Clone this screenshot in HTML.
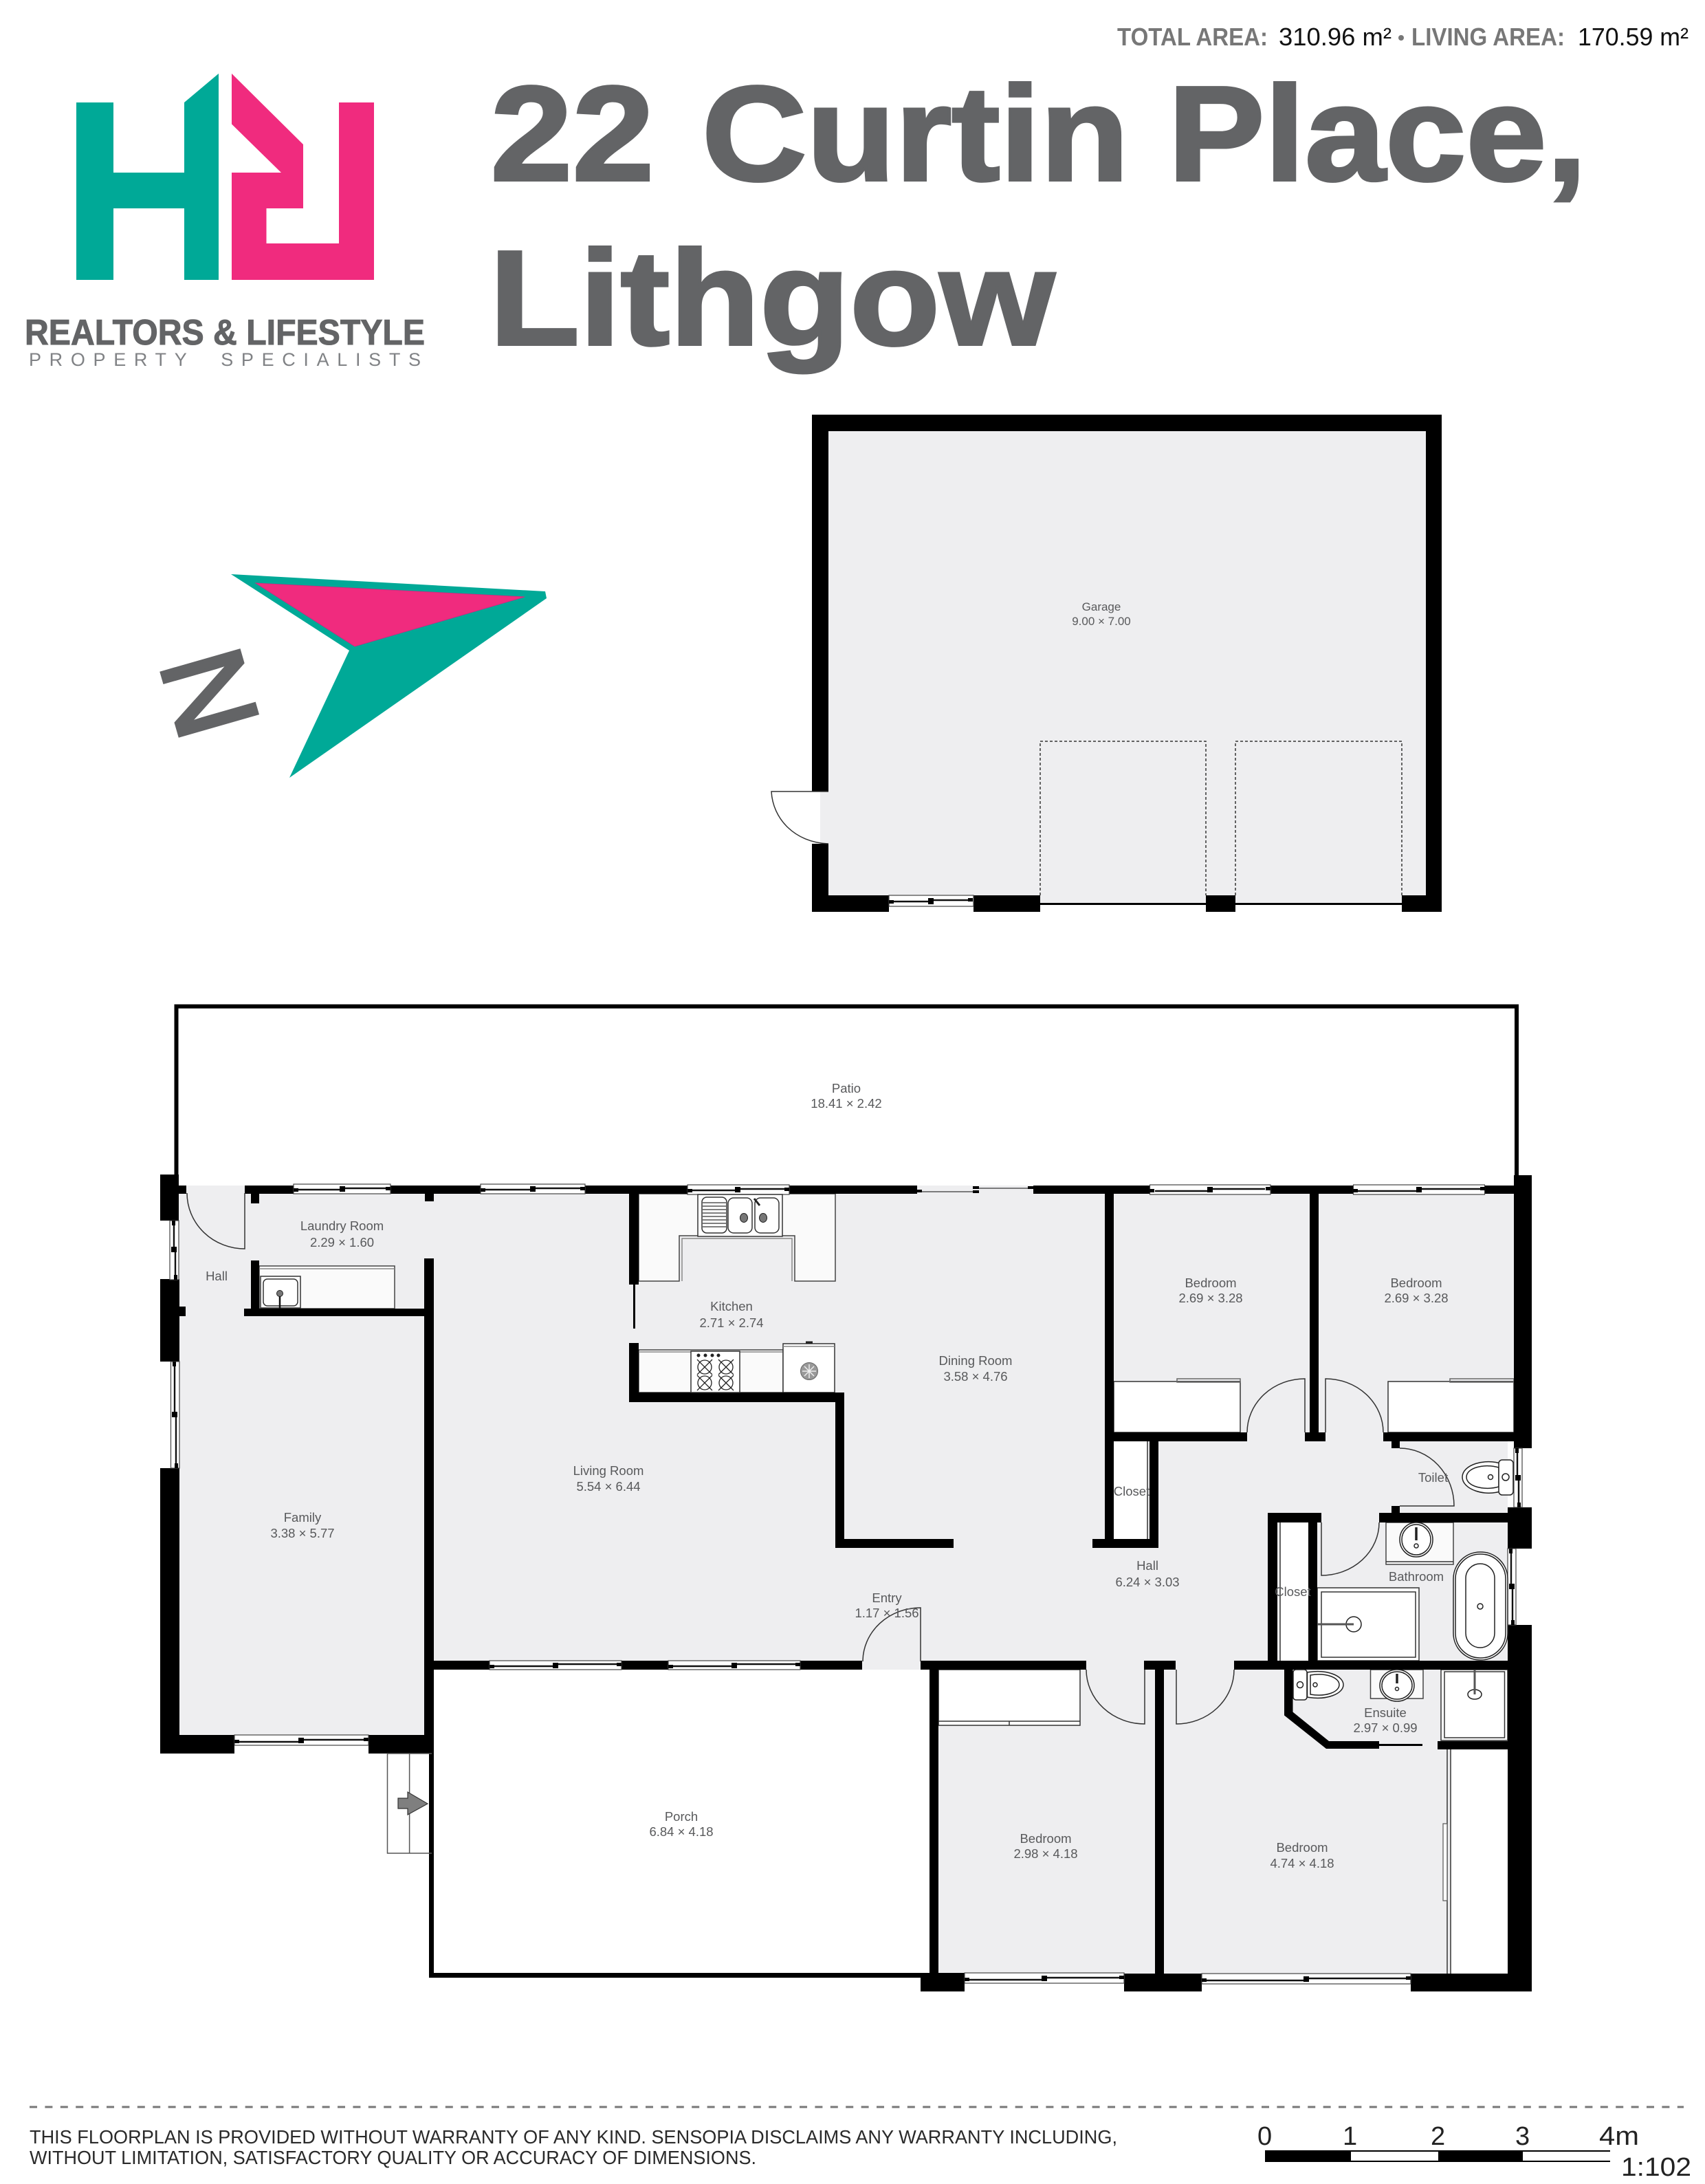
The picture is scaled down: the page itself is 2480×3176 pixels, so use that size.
<!DOCTYPE html>
<html lang="en"><head><meta charset="utf-8"><title>22 Curtin Place, Lithgow</title>
<style>html,body{margin:0;padding:0;background:#fff}svg{display:block}
text{font-family:"Liberation Sans",sans-serif}
.l{font-size:18.5px;fill:#58595b;text-anchor:middle}
.t{fill:none;stroke:#333;stroke-width:1.5}
.w{fill:#fff;stroke:#444;stroke-width:1.2}
.m{stroke:#111;stroke-width:2.4;fill:none}
.f{fill:#fff;stroke:#333;stroke-width:1.5}
.c{fill:#fafafa;stroke:#444;stroke-width:1.5}
</style></head><body>
<svg xmlns="http://www.w3.org/2000/svg" width="2480" height="3176" viewBox="0 0 2480 3176">
<rect width="2480" height="3176" fill="#fff"/>

<!-- header -->
<text x="1625" y="66" font-size="36" font-weight="700" fill="#777" textLength="219" lengthAdjust="spacingAndGlyphs">TOTAL AREA:</text>
<text x="1860" y="66" font-size="36" fill="#111" textLength="164" lengthAdjust="spacingAndGlyphs">310.96 m²</text>
<circle cx="2038" cy="55" r="4" fill="#777"/>
<text x="2053" y="66" font-size="36" font-weight="700" fill="#777" textLength="223" lengthAdjust="spacingAndGlyphs">LIVING AREA:</text>
<text x="2295" y="66" font-size="36" fill="#111" textLength="161" lengthAdjust="spacingAndGlyphs">170.59 m²</text>

<g font-size="196" font-weight="700" fill="#636466" stroke="#636466" stroke-width="4">
<text x="713.500" y="262" textLength="238" lengthAdjust="spacingAndGlyphs">22</text>
<text x="1021" y="262" textLength="621" lengthAdjust="spacingAndGlyphs">Curtin</text>
<text x="1699" y="262" textLength="609" lengthAdjust="spacingAndGlyphs">Place,</text>
<text x="712" y="501" textLength="822" lengthAdjust="spacingAndGlyphs">Lithgow</text>
</g>

<!-- logo -->
<polygon fill="#00a997" points="111,149 165,149 165,251 268,251 268,149 318,107 318,407 268,407 268,303 165,303 165,407 111,407"/>
<polygon fill="#f02b7e" points="337,107 441,210 441,303 387.5,303 387.5,354 493,354 493,149 544,149 544,407 337,407 337,251 409,251 337,180.5"/>
<text x="36" y="501" font-size="52" font-weight="700" fill="#636466" stroke="#636466" stroke-width="1" textLength="582" lengthAdjust="spacingAndGlyphs">REALTORS &amp; LIFESTYLE</text>
<text x="42" y="532" font-size="27" fill="#808285" textLength="570" lengthAdjust="spacing" xml:space="preserve">PROPERTY  SPECIALISTS</text>

<!-- compass -->
<polygon fill="#00a997" points="336,835 793,860 795,870 421,1131 508,946"/>
<polygon fill="#f02b7e" stroke="#d02a80" stroke-width="1" points="372,848 763,868 516,940"/>
<text transform="translate(231.5 965) rotate(74)" font-size="170" fill="#636466" stroke="#636466" stroke-width="5">N</text>

<!-- garage -->
<rect x="1181" y="603" width="916" height="723" fill="#000"/>
<rect x="1205" y="627" width="869" height="675" fill="#eeeef0"/>
<rect x="1181" y="1151" width="24" height="76" fill="#eeeef0"/>
<rect x="1181" y="1151" width="12" height="76" fill="#fff"/>
<path class="t" d="M1205 1151H1122C1124 1190 1155 1225 1205 1227"/>
<rect x="1293" y="1302" width="123" height="24" fill="#fff"/>
<rect class="w" x="1293" y="1302" width="123" height="16"/>
<path class="m" d="M1300 1311H1352M1358 1309H1410"/>
<rect x="1350" y="1306" width="8" height="9" fill="#000"/>
<rect x="1293" y="1309" width="7" height="5" fill="#000"/><rect x="1408" y="1306" width="7" height="5" fill="#000"/>
<rect x="1513" y="1302" width="241" height="24" fill="#fff"/>
<rect x="1513" y="1302" width="241" height="11" fill="#eeeef0"/>
<rect x="1513" y="1313" width="241" height="3" fill="#000"/>
<rect x="1797" y="1302" width="242" height="24" fill="#fff"/>
<rect x="1797" y="1302" width="242" height="11" fill="#eeeef0"/>
<rect x="1797" y="1313" width="242" height="3" fill="#000"/>
<path d="M1513 1302V1078H1754V1302M1797 1302V1078H2039V1302" fill="none" stroke="#333" stroke-width="1.5" stroke-dasharray="4 3"/>
<text class="l" style="font-size:17px" x="1602" y="888">Garage</text>
<text class="l" style="font-size:17px" x="1602" y="909">9.00 × 7.00</text>

<!-- patio -->
<path d="M256.5 1710V1463.5H2206V1710" fill="none" stroke="#000" stroke-width="6"/>

<!-- floor -->
<g fill="#eeeef0">
<rect x="260" y="1724" width="357" height="799"/>
<rect x="617" y="1735" width="990" height="680"/>
<rect x="1607" y="1736" width="595" height="347"/>
<rect x="1607" y="2083" width="586" height="332"/>
<rect x="1365" y="2415" width="828" height="455"/>
<rect x="1254" y="2415" width="85" height="13"/>
<rect x="1334" y="1724" width="169" height="12"/>
</g>

<!-- white fixtures -->
<polygon class="c" points="929,1736 1215,1736 1215,1863 1156,1863 1156,1797 988,1797 988,1863 929,1863"/>
<path class="t" style="stroke:#888" d="M992 1863V1801H1152V1863"/>
<rect class="c" x="929" y="1963" width="210" height="62"/>
<path class="t" style="stroke:#888" d="M929 1966H1139"/>
<rect class="f" x="1139" y="1954" width="75" height="71"/>
<path class="t" style="stroke:#888" d="M1139 1958H1214"/>
<rect class="c" x="377" y="1841" width="197" height="62"/>
<path class="t" style="stroke:#888" d="M377 1845H574"/>
<rect class="f" x="1620" y="2009" width="184" height="74"/><rect class="t" x="1712" y="2005" width="92" height="5" style="stroke:#666"/>
<rect class="f" x="2019" y="2009" width="183" height="74"/><rect class="t" x="2109" y="2005" width="93" height="5" style="stroke:#666"/>
<rect fill="#fff" x="1620" y="2096" width="49" height="142"/><path class="t" d="M1669 2096V2238"/>
<rect fill="#fff" x="1862" y="2214" width="41" height="201"/><path class="t" d="M1862 2214V2415"/>
<rect class="c" x="2016" y="2214" width="98" height="61"/><path class="t" d="M2016 2271H2114"/>
<rect class="f" x="1916" y="2309" width="148" height="106"/><rect class="f" x="1922" y="2315" width="137" height="95"/>
<rect class="f" x="2096" y="2428" width="97" height="103"/><rect class="f" x="2101" y="2431" width="87.500" height="96"/>
<rect class="c" x="1993.500" y="2428" width="76.500" height="42"/>
<rect fill="#fff" x="2110" y="2544" width="83" height="326"/>
<path class="t" d="M2105 2544V2870M2110 2544V2870"/>
<rect x="2099" y="2652" width="6" height="112" fill="#fafafa" stroke="#555" stroke-width="1.2"/>
<rect class="f" x="1365" y="2428" width="206" height="81"/><path class="t" d="M1365 2503H1571M1468 2503V2509"/>

<!-- walls -->
<g fill="#000">
<rect x="233" y="1708" width="27" height="67"/><rect x="260" y="1724" width="11" height="12"/>
<rect x="233" y="1860" width="28" height="120"/><rect x="260" y="1900" width="10" height="14"/>
<rect x="233" y="2135" width="28" height="415"/>
<rect x="233" y="2523" width="108" height="27"/>
<rect x="536" y="2523" width="93" height="27"/>
<rect x="617" y="1830" width="14" height="720"/>
<rect x="355" y="1903" width="262" height="11"/>
<rect x="365" y="1833" width="12" height="70"/>
<rect x="356" y="1724" width="978" height="12"/><rect x="365" y="1735" width="12" height="15"/><rect x="618" y="1735" width="13" height="12"/>
<rect x="1503" y="1724" width="700" height="12"/>
<rect x="915" y="1736" width="14" height="132"/><rect x="921" y="1868" width="3" height="64"/>
<rect x="915" y="1953" width="14" height="86"/><rect x="915" y="2025" width="313" height="14"/>
<rect x="1215" y="2025" width="13" height="226"/><rect x="1215" y="2238" width="172" height="13"/>
<rect x="1607" y="1736" width="13" height="515"/><rect x="1589" y="2238" width="96" height="13"/>
<rect x="1672" y="2096" width="13" height="155"/>
<rect x="1620" y="2083" width="194" height="13"/>
<rect x="1905" y="1736" width="13" height="360"/><rect x="1898" y="2083" width="30" height="13"/>
<rect x="2012" y="2083" width="190" height="13"/>
<rect x="2202" y="1709" width="26" height="397"/>
<rect x="2024" y="2096" width="12" height="10"/><rect x="2024" y="2190" width="12" height="10"/>
<rect x="2006" y="2200" width="190" height="14"/>
<rect x="2193" y="2192" width="35" height="60"/>
<rect x="2193" y="2363" width="35" height="533"/>
<rect x="1844" y="2200" width="78" height="14"/><rect x="1844" y="2200" width="14" height="228"/><rect x="1903" y="2214" width="13" height="214"/>
<rect x="631" y="2415" width="81" height="13"/><rect x="904" y="2415" width="68" height="13"/><rect x="1164" y="2415" width="90" height="13"/>
<rect x="1339" y="2415" width="241" height="13"/><rect x="1664" y="2415" width="46" height="13"/><rect x="1795" y="2415" width="398" height="13"/>
<rect x="1352" y="2428" width="13" height="441"/>
<rect x="1680" y="2428" width="13" height="442"/>
<rect x="624" y="2550" width="7" height="326"/><rect x="624" y="2869" width="715" height="7"/>
<rect x="1339" y="2869" width="64" height="27"/>
<rect x="1635" y="2870" width="113" height="26"/>
<rect x="2052" y="2870" width="176" height="26"/>
<polygon points="1868,2428 1868,2494.500 1929,2543 2006,2543 2006,2532 1933,2532 1880.500,2489.600 1880.500,2428"/>
<rect x="2006" y="2536" width="63" height="3"/>
<rect x="2091" y="2532" width="102" height="12"/>
</g>

<!-- windows, horizontal -->
<g>
<rect class="w" x="427" y="1722" width="141" height="14"/><path class="m" d="M433 1730H494M502 1728H562"/><rect x="494" y="1725" width="8" height="8"/><rect x="427" y="1728" width="7" height="5"/><rect x="561" y="1726" width="7" height="5"/>
<rect class="w" x="699" y="1722" width="152" height="14"/><path class="m" d="M705 1730H771M779 1728H845"/><rect x="771" y="1725" width="8" height="8"/><rect x="699" y="1728" width="7" height="5"/><rect x="844" y="1726" width="7" height="5"/>
<rect class="w" x="1000" y="1723" width="148" height="14"/><path class="m" d="M1006 1731H1069M1077 1729H1142"/><rect x="1069" y="1726" width="8" height="8"/><rect x="1000" y="1729" width="7" height="5"/><rect x="1141" y="1727" width="7" height="5"/>
<path class="t" style="stroke:#555" d="M1340 1733H1415M1424 1728H1495"/><rect x="1334" y="1730" width="7" height="4"/><rect x="1415" y="1725" width="9" height="4"/><rect x="1415" y="1731" width="9" height="4"/><rect x="1495" y="1725" width="8" height="4"/>
<rect class="w" x="1672.500" y="1723" width="175.500" height="14"/><path class="m" d="M1680 1732H1756M1764 1729H1840"/><rect x="1756" y="1726" width="8" height="8"/><rect x="1672" y="1729" width="7" height="5"/><rect x="1841" y="1726" width="7" height="5"/>
<rect class="w" x="1968.500" y="1723" width="191" height="14"/><path class="m" d="M1975 1732H2060M2068 1729H2153"/><rect x="2060" y="1726" width="8" height="8"/><rect x="1968" y="1729" width="7" height="5"/><rect x="2153" y="1726" width="7" height="5"/>
<rect class="w" x="341" y="2523" width="195" height="15"/><path class="m" d="M348 2533H434M442 2530H529"/><rect x="434" y="2527" width="8" height="8"/><rect x="341" y="2530" width="7" height="5"/><rect x="529" y="2527" width="7" height="5"/>
<rect class="w" x="712" y="2415" width="192" height="13"/><path class="m" d="M719 2423H804M812 2420H897"/><rect x="804" y="2418" width="8" height="8"/><rect x="712" y="2421" width="7" height="5"/><rect x="897" y="2418" width="7" height="5"/>
<rect class="w" x="972" y="2415" width="192" height="13"/><path class="m" d="M979 2423H1064M1072 2420H1157"/><rect x="1064" y="2418" width="8" height="8"/><rect x="972" y="2421" width="7" height="5"/><rect x="1157" y="2418" width="7" height="5"/>
<rect class="w" x="1403" y="2869" width="232" height="15"/><path class="m" d="M1410 2879H1515M1523 2876H1628"/><rect x="1515" y="2873" width="8" height="8"/><rect x="1403" y="2876" width="7" height="5"/><rect x="1628" y="2873" width="7" height="5"/>
<rect class="w" x="1748" y="2870" width="304" height="15"/><path class="m" d="M1755 2880H1896M1904 2877H2045"/><rect x="1896" y="2874" width="8" height="8"/><rect x="1748" y="2877" width="7" height="5"/><rect x="2045" y="2874" width="7" height="5"/>
<!-- vertical -->
<rect class="w" x="247" y="1775" width="13" height="86"/><path class="m" d="M253 1782V1813M255 1821V1855"/><rect x="249" y="1813" width="8" height="8"/><rect x="250" y="1775" width="5" height="7"/><rect x="253" y="1854" width="5" height="7"/>
<rect class="w" x="248.500" y="1980" width="12.500" height="155"/><path class="m" d="M254 1987V2053M256 2061V2128"/><rect x="250" y="2053" width="8" height="8"/><rect x="251" y="1980" width="5" height="7"/><rect x="254" y="2128" width="5" height="7"/>
<rect class="w" x="2202" y="2106" width="12" height="86"/><path class="m" d="M2207 2112V2145M2209 2153V2186"/><rect x="2204" y="2145" width="8" height="8"/><rect x="2204" y="2106" width="5" height="7"/><rect x="2207" y="2185" width="5" height="7"/>
<rect class="w" x="2193" y="2252" width="12" height="111"/><path class="m" d="M2198 2259V2303M2200 2311V2356"/><rect x="2195" y="2303" width="8" height="8"/><rect x="2195" y="2252" width="5" height="7"/><rect x="2198" y="2356" width="5" height="7"/>
</g>

<!-- doors -->
<g class="t" fill="none" stroke="#333" stroke-width="1.5">
<path d="M356 1735V1816A84 81 0 0 1 272 1735"/>
<path d="M1339 2416V2338A84 78 0 0 0 1255 2416"/>
<path d="M1898 2083V2005A84 78 0 0 0 1814 2083"/>
<path d="M1928 2083V2005A84 78 0 0 1 2012 2083"/>
<path d="M2036 2106A79 84 0 0 1 2115 2190H2036"/>
<path d="M1922 2214V2291A84 77 0 0 0 2006 2214"/>
<path d="M1665 2428V2507A85 79 0 0 1 1580 2428"/>
<path d="M1711 2428V2507A84 79 0 0 0 1795 2428"/>
</g>

<!-- stairs -->
<path class="t" style="stroke:#555" d="M628 2550H563.500V2695H628M595.600 2550V2695"/>
<polygon points="622,2623 593,2606 593,2615 579,2615 579,2630 593,2630 593,2639" fill="#7f7f7f" stroke="#333" stroke-width="1.2"/>

<!-- laundry sink -->
<rect class="f" x="379" y="1856" width="58" height="46"/><rect class="f" x="383" y="1860" width="50" height="39" rx="6"/>
<circle cx="407" cy="1881" r="4.500" fill="#777" stroke="#222"/><path d="M407 1885V1903" stroke="#111" stroke-width="2.500"/>

<!-- kitchen sink -->
<rect class="f" x="1015" y="1737" width="123" height="61"/>
<rect class="f" x="1021" y="1741" width="36" height="52" rx="7"/>
<path d="M1022 1749H1056M1022 1754H1056M1022 1759H1056M1022 1764H1056M1022 1769H1056M1022 1774H1056M1022 1779H1056M1022 1784H1056" stroke="#333" stroke-width="1.200"/>
<rect class="f" x="1059" y="1742" width="35" height="51" rx="8"/><rect class="f" x="1098" y="1742" width="35" height="51" rx="8"/>
<ellipse cx="1082" cy="1771" rx="5.500" ry="6.500" fill="#777" stroke="#222"/><ellipse cx="1110" cy="1771" rx="5.500" ry="6.500" fill="#777" stroke="#222"/>
<path d="M1097 1743L1105 1753" stroke="#222" stroke-width="3"/>

<!-- stove -->
<rect class="f" x="1005" y="1965" width="71" height="60"/>
<g fill="#222"><circle cx="1016" cy="1971" r="2.500"/><circle cx="1026" cy="1971" r="2.500"/><circle cx="1036" cy="1971" r="2.500"/><circle cx="1045" cy="1971" r="2.500"/></g>
<g fill="none" stroke="#222" stroke-width="1.300">
<circle cx="1025" cy="1988" r="10"/><circle cx="1056" cy="1988" r="10"/><circle cx="1025" cy="2011" r="10"/><circle cx="1056" cy="2011" r="10"/>
<path d="M1014 1977L1036 1999M1036 1977L1014 1999M1045 1977L1067 1999M1067 1977L1045 1999M1014 2000L1036 2022M1036 2000L1014 2022M1045 2000L1067 2022M1067 2000L1045 2022"/>
</g>
<!-- fridge -->
<circle cx="1177" cy="1994" r="12.500" fill="#999" stroke="#666"/>
<path d="M1177 1984V2004M1167 1994H1187M1170 1987L1184 2001M1184 1987L1170 2001" stroke="#eee" stroke-width="1.500"/>
<path d="M1172 1952H1182" stroke="#222" stroke-width="3"/>

<!-- bathroom fixtures -->
<g fill="none" stroke="#222" stroke-width="1.500">
<ellipse cx="2060" cy="2239" rx="24" ry="25" fill="#fff"/><ellipse cx="2060" cy="2239" rx="21" ry="22"/>
<circle cx="2060" cy="2248" r="3"/><path d="M2060 2221V2240" stroke-width="3.500"/>
<rect x="2114" y="2257" width="79" height="157" rx="39" fill="#fff"/><rect x="2117" y="2260" width="73" height="151" rx="36"/>
<rect x="2132" y="2274" width="42" height="122" rx="21"/>
<circle cx="2153" cy="2336" r="4"/>
<ellipse cx="1969" cy="2362" rx="11" ry="11"/>
<path d="M1916 2362H1969" stroke-width="3" stroke="#555"/>
<ellipse cx="2145" cy="2464" rx="10" ry="7"/>
<path d="M2145 2428V2464" stroke-width="3" stroke="#555"/>
<ellipse cx="2032" cy="2451" rx="25" ry="23" fill="#fff"/><ellipse cx="2032" cy="2451" rx="22" ry="20"/>
<circle cx="2032" cy="2456" r="2.500"/><path d="M2032 2434V2448" stroke-width="3.500"/>
<!-- toilet A -->
<path d="M2185 2129C2160 2120 2127 2130 2127 2148C2127 2166 2160 2177 2185 2168Z" fill="#fff"/>
<path d="M2180 2134C2160 2128 2133 2134 2133 2148C2133 2162 2160 2168 2180 2162Z"/>
<rect x="2180" y="2123" width="21" height="51" rx="5" fill="#fff"/>
<circle cx="2168" cy="2148" r="3.500"/><circle cx="2190" cy="2148" r="5"/>
<!-- toilet B -->
<path d="M1901.500 2432C1930 2427 1954 2437 1954 2450C1954 2463 1930 2473 1901.500 2468Z" fill="#fff"/>
<path d="M1906 2436C1930 2432 1948 2440 1948 2450C1948 2460 1930 2468 1906 2464Z"/>
<rect x="1881" y="2428" width="20" height="44" rx="4" fill="#fff"/>
<circle cx="1891" cy="2450" r="4.500"/><circle cx="1913" cy="2450" r="3"/>
</g>

<!-- labels -->
<g>
<text class="l" x="1231" y="1589">Patio</text><text class="l" x="1231" y="1611">18.41 × 2.42</text>
<text class="l" x="497.500" y="1789">Laundry Room</text><text class="l" x="497.500" y="1813">2.29 × 1.60</text>
<text class="l" x="315" y="1862">Hall</text>
<text class="l" x="440" y="2213">Family</text><text class="l" x="440" y="2236">3.38 × 5.77</text>
<text class="l" x="885" y="2145">Living Room</text><text class="l" x="885" y="2168">5.54 × 6.44</text>
<text class="l" x="1064" y="1906">Kitchen</text><text class="l" x="1064" y="1930">2.71 × 2.74</text>
<text class="l" x="1419" y="1985">Dining Room</text><text class="l" x="1419" y="2008">3.58 × 4.76</text>
<text class="l" x="1290" y="2330">Entry</text><text class="l" x="1290" y="2352">1.17 × 1.56</text>
<text class="l" x="1761" y="1872">Bedroom</text><text class="l" x="1761" y="1894">2.69 × 3.28</text>
<text class="l" x="2060" y="1872">Bedroom</text><text class="l" x="2060" y="1894">2.69 × 3.28</text>
<text class="l" x="1646" y="2175">Closet</text>
<text class="l" x="2084.500" y="2155">Toilet</text>
<text class="l" x="2060" y="2299">Bathroom</text>
<text class="l" x="1880.500" y="2321">Closet</text>
<text class="l" x="1669" y="2283">Hall</text><text class="l" x="1669" y="2307">6.24 × 3.03</text>
<text class="l" x="2015" y="2497">Ensuite</text><text class="l" x="2015" y="2519">2.97 × 0.99</text>
<text class="l" x="1894" y="2693">Bedroom</text><text class="l" x="1894" y="2716">4.74 × 4.18</text>
<text class="l" x="991" y="2648">Porch</text><text class="l" x="991" y="2670">6.84 × 4.18</text>
<text class="l" x="1521" y="2680">Bedroom</text><text class="l" x="1521" y="2702">2.98 × 4.18</text>
</g>

<!-- footer -->
<path d="M43 3064H2449" stroke="#777" stroke-width="3" stroke-dasharray="11 11.4" fill="none"/>
<text x="43" y="3117" font-size="28" fill="#2a2a2a" textLength="1582" lengthAdjust="spacingAndGlyphs">THIS FLOORPLAN IS PROVIDED WITHOUT WARRANTY OF ANY KIND. SENSOPIA DISCLAIMS ANY WARRANTY INCLUDING,</text>
<text x="43" y="3147" font-size="28" fill="#2a2a2a" textLength="1057" lengthAdjust="spacingAndGlyphs">WITHOUT LIMITATION, SATISFACTORY QUALITY OR ACCURACY OF DIMENSIONS.</text>
<g font-size="38" fill="#222">
<text x="1829" y="3119">0</text><text x="1953" y="3119">1</text><text x="2081" y="3119">2</text><text x="2204" y="3119">3</text><text x="2326" y="3119" textLength="58" lengthAdjust="spacingAndGlyphs">4m</text>
<text x="2358" y="3164" textLength="102" lengthAdjust="spacingAndGlyphs">1:102</text>
</g>
<rect x="1840" y="3127" width="502" height="17" fill="#000"/>
<rect x="1965" y="3129" width="127" height="13" fill="#fff"/>
<rect x="2215" y="3129" width="127" height="13" fill="#fff"/>
</svg>
</body></html>
